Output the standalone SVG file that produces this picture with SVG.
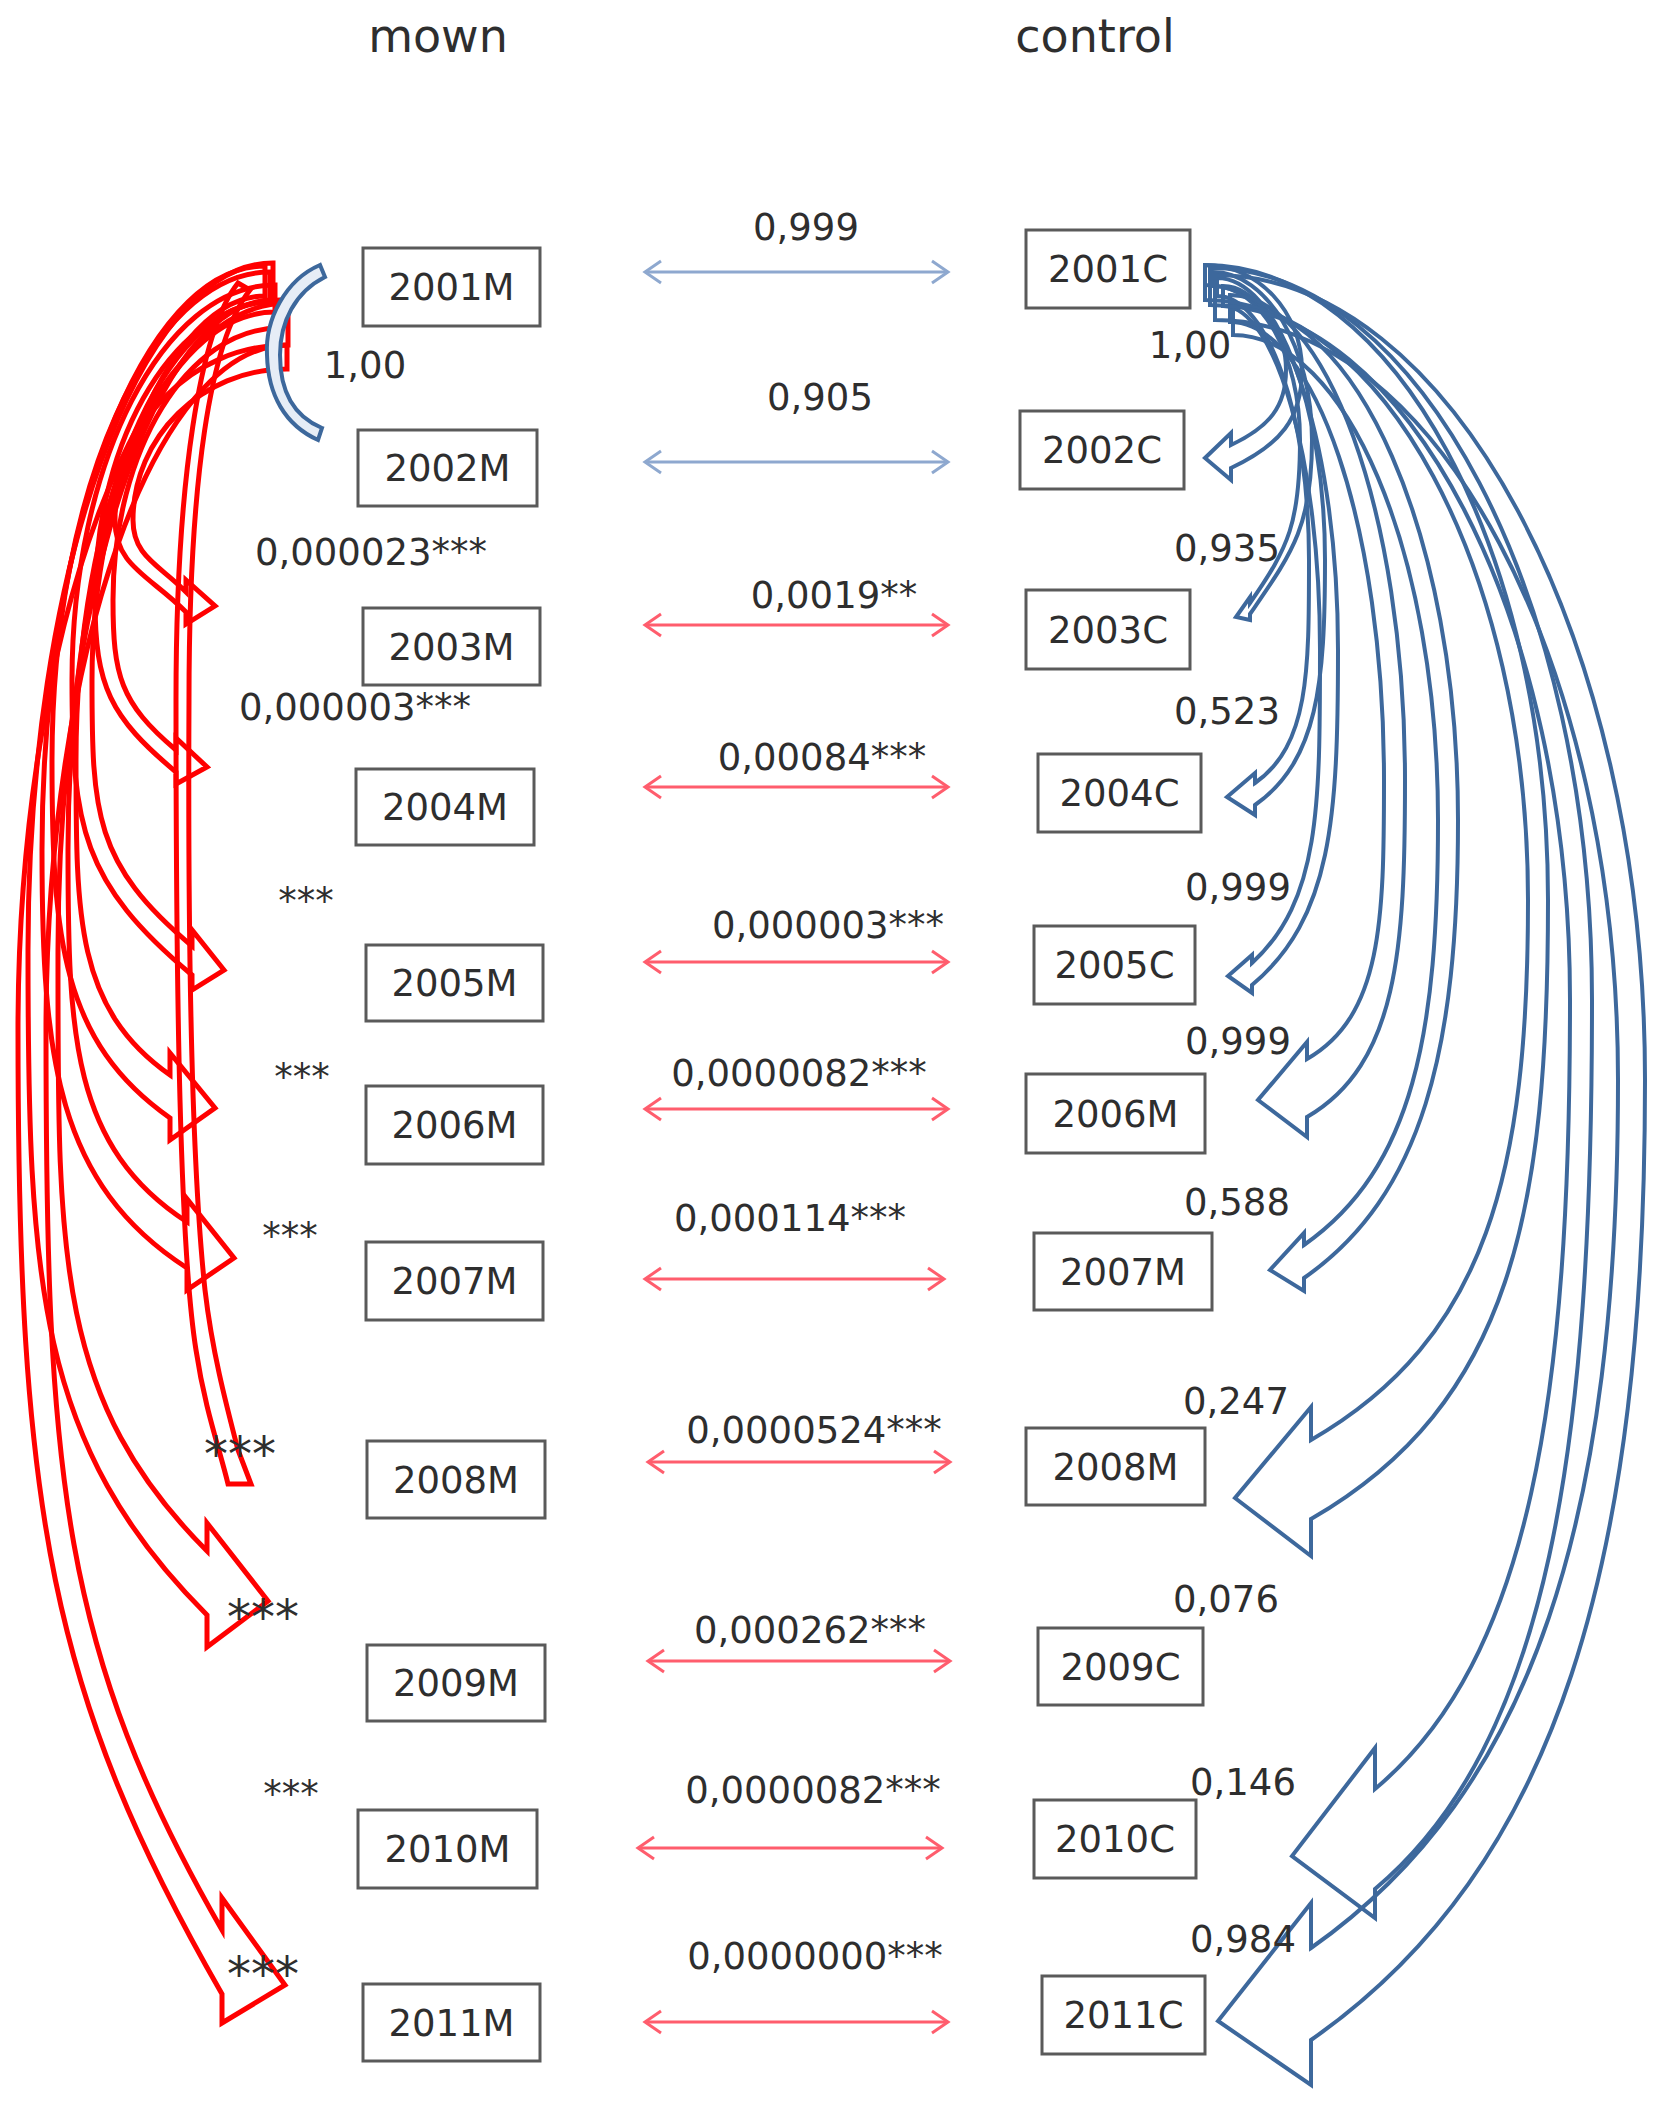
<svg xmlns="http://www.w3.org/2000/svg" width="1658" height="2116" viewBox="0 0 1658 2116">
<style>
.box{fill:#fff;stroke:#5a5a5a;stroke-width:3}
.t{font-family:"DejaVu Sans",sans-serif;font-size:37px;fill:#2e2e2e;text-anchor:middle}
.big{font-size:48px}
.title{font-size:46px}
.red{fill:none;stroke:#ff0000;stroke-width:5;stroke-linejoin:miter}
.blue{fill:none;stroke:#3d689c;stroke-width:4;stroke-linejoin:miter}
.mb{stroke:#8ea8cf;stroke-width:3;fill:none}
.mr{stroke:#ff5d6d;stroke-width:3;fill:none}
</style>
<defs>
<marker id="hb" viewBox="0 0 22 26" refX="19" refY="13" markerWidth="22" markerHeight="26" markerUnits="userSpaceOnUse" orient="auto-start-reverse"><path d="M3,2 L19,13 L3,24" fill="none" stroke="#8ea8cf" stroke-width="3"/></marker>
<marker id="hr" viewBox="0 0 22 26" refX="19" refY="13" markerWidth="22" markerHeight="26" markerUnits="userSpaceOnUse" orient="auto-start-reverse"><path d="M3,2 L19,13 L3,24" fill="none" stroke="#ff5d6d" stroke-width="3"/></marker>
</defs>
<rect width="1658" height="2116" fill="#fff"/>
<g id="titles">
<text class="t title" x="438" y="52">mown</text>
<text class="t title" x="1095" y="52">control</text>
</g>
<g id="connectors">
<path class="red" d="M287,345 C192,345 115,424 115,520 C115,566 149,575 186,612 L186,624 L215,606 L186,580 L186,592 C158,564 133,556 133,520 C133,437 202,369 287,369 Z"/>
<path class="red" d="M280,300 C178,300 95,435 95,600 C95,686 110,717 176,772 L176,784 L207,767 L176,738 L176,750 C120,703 113,675 113,600 C113,450 188,328 280,328 Z"/>
<path class="red" d="M275,285 C163,285 72,463 72,680 C72,827 82,883 192,975 L192,990 L224,970 L192,930 L192,946 C94,864 92,813 92,680 C92,478 174,312 275,312 Z"/>
<path class="red" d="M270,272 C150,272 52,492 52,760 C52,939 62,1042 170,1118 L170,1140 L215,1108 L170,1053 L170,1075 C76,1009 76,918 76,760 C76,508 163,302 270,302 Z"/>
<path class="red" d="M265,266 C142,266 42,529 42,850 C42,1059 57,1184 187,1268 L187,1290 L234,1258 L187,1199 L187,1222 C72,1147 68,1036 68,850 C68,545 157,296 265,296 Z"/>
<path class="red" d="M238,283 C200,330 176,480 176,700 C176,1000 180,1250 196,1350 C205,1410 220,1450 228,1484 L251,1484 L238,1450 C225,1400 212,1350 205,1290 C190,1150 188,900 189,700 C189,480 210,340 250,290 Z"/>
<path class="red" d="M273,263 C138,263 28,572 28,950 C28,1282 37,1445 207,1615 L207,1647 L268,1601 L207,1523 L207,1551 C54,1398 58,1250 58,950 C58,593 155,300 273,300 Z"/>
<path class="red" d="M288,303 C140,303 18,630 18,1030 C18,1512 50,1695 222,1994 L222,2023 L285,1985 L222,1898 L222,1930 C62,1652 46,1480 46,1030 C46,653 155,345 288,345 Z"/>
<path d="M320,265 C285,280 265,320 267,355 C268,395 285,425 318,440 L322,428 C293,416 280,390 280,355 C280,322 295,292 325,277 Z" fill="#e6edf6" stroke="#3d689c" stroke-width="4"/>
<path class="blue" d="M1205,265 C1258,265 1302,312 1302,370 C1302,419 1280,445 1231,468 L1231,480 L1205,458 L1231,433 L1231,445 C1269,427 1286,407 1286,370 C1286,323 1250,285 1205,285 Z"/>
<path class="blue" d="M1213,272 C1267,272 1312,348 1312,440 C1312,527 1292,553 1250,614 L1250,620 L1236,617 L1250,597 L1250,603 C1289,547 1300,522 1300,440 C1300,355 1261,286 1213,286 Z"/>
<path class="blue" d="M1217,278 C1276,278 1325,405 1325,560 C1325,682 1318,761 1255,805 L1255,815 L1227,797 L1255,773 L1255,783 C1309,745 1309,672 1309,560 C1309,415 1268,296 1217,296 Z"/>
<path class="blue" d="M1223,286 C1286,286 1338,450 1338,650 C1338,817 1332,918 1252,985 L1252,993 L1228,976 L1252,955 L1252,963 C1320,901 1320,806 1320,650 C1320,461 1276,306 1223,306 Z"/>
<path class="blue" d="M1230,295 C1326,295 1405,513 1405,780 C1405,948 1398,1064 1307,1117 L1307,1137 L1258,1100 L1307,1042 L1307,1059 C1382,1016 1384,920 1384,780 C1384,528 1315,322 1230,322 Z"/>
<path class="blue" d="M1233,305 C1357,305 1458,537 1458,820 C1458,1049 1423,1195 1304,1278 L1304,1291 L1270,1270 L1304,1233 L1304,1245 C1414,1168 1438,1032 1438,820 C1438,553 1346,335 1233,335 Z"/>
<path class="blue" d="M1205,265 C1394,265 1548,551 1548,900 C1548,1210 1512,1403 1311,1519 L1311,1556 L1235,1498 L1311,1407 L1311,1440 C1488,1338 1528,1170 1528,900 C1528,570 1383,300 1205,300 Z"/>
<path class="blue" d="M1210,268 C1419,268 1592,597 1592,1000 C1592,1445 1550,1742 1375,1889 L1375,1918 L1292,1856 L1375,1748 L1375,1789 C1531,1659 1570,1395 1570,1000 C1570,618 1407,305 1210,305 Z"/>
<path class="blue" d="M1215,275 C1450,275 1645,637 1645,1080 C1645,1560 1560,1866 1311,2040 L1311,2085 L1218,2021 L1311,1903 L1311,1948 C1536,1790 1618,1514 1618,1080 C1618,662 1436,320 1215,320 Z"/>
<line class="mb" x1="645" y1="272" x2="948" y2="272" marker-start="url(#hb)" marker-end="url(#hb)"/>
<line class="mb" x1="645" y1="462" x2="948" y2="462" marker-start="url(#hb)" marker-end="url(#hb)"/>
<line class="mr" x1="645" y1="625" x2="948" y2="625" marker-start="url(#hr)" marker-end="url(#hr)"/>
<line class="mr" x1="645" y1="787" x2="948" y2="787" marker-start="url(#hr)" marker-end="url(#hr)"/>
<line class="mr" x1="645" y1="962" x2="948" y2="962" marker-start="url(#hr)" marker-end="url(#hr)"/>
<line class="mr" x1="645" y1="1109" x2="948" y2="1109" marker-start="url(#hr)" marker-end="url(#hr)"/>
<line class="mr" x1="645" y1="1279" x2="944" y2="1279" marker-start="url(#hr)" marker-end="url(#hr)"/>
<line class="mr" x1="648" y1="1462" x2="950" y2="1462" marker-start="url(#hr)" marker-end="url(#hr)"/>
<line class="mr" x1="648" y1="1661" x2="950" y2="1661" marker-start="url(#hr)" marker-end="url(#hr)"/>
<line class="mr" x1="638" y1="1848" x2="942" y2="1848" marker-start="url(#hr)" marker-end="url(#hr)"/>
<line class="mr" x1="645" y1="2022" x2="948" y2="2022" marker-start="url(#hr)" marker-end="url(#hr)"/>
</g>
<g id="labels">
<text class="t" x="806" y="240">0,999</text>
<text class="t" x="820" y="410">0,905</text>
<text class="t" x="834" y="608">0,0019**</text>
<text class="t" x="822" y="770">0,00084***</text>
<text class="t" x="828" y="938">0,000003***</text>
<text class="t" x="799" y="1086">0,0000082***</text>
<text class="t" x="790" y="1231">0,000114***</text>
<text class="t" x="814" y="1443">0,0000524***</text>
<text class="t" x="810" y="1643">0,000262***</text>
<text class="t" x="813" y="1803">0,0000082***</text>
<text class="t" x="815" y="1969">0,0000000***</text>
<text class="t" x="365" y="378">1,00</text>
<text class="t" x="371" y="565">0,000023***</text>
<text class="t" x="355" y="720">0,000003***</text>
<text class="t" x="306" y="914">***</text>
<text class="t" x="302" y="1090">***</text>
<text class="t" x="290" y="1249">***</text>
<text class="t big" x="240" y="1471">***</text>
<text class="t big" x="263" y="1634">***</text>
<text class="t" x="291" y="1807">***</text>
<text class="t big" x="263" y="1991">***</text>
<text class="t" x="1190" y="358">1,00</text>
<text class="t" x="1227" y="561">0,935</text>
<text class="t" x="1227" y="724">0,523</text>
<text class="t" x="1238" y="900">0,999</text>
<text class="t" x="1238" y="1054">0,999</text>
<text class="t" x="1237" y="1215">0,588</text>
<text class="t" x="1236" y="1414">0,247</text>
<text class="t" x="1226" y="1612">0,076</text>
<text class="t" x="1243" y="1795">0,146</text>
<text class="t" x="1243" y="1952">0,984</text>
</g>
<g id="n2001M"><rect class="box" x="363" y="248" width="177" height="78"/><text class="t" x="451.5" y="300">2001M</text></g>
<g id="n2002M"><rect class="box" x="358" y="430" width="179" height="76"/><text class="t" x="447.5" y="481">2002M</text></g>
<g id="n2003M"><rect class="box" x="363" y="608" width="177" height="77"/><text class="t" x="451.5" y="660">2003M</text></g>
<g id="n2004M"><rect class="box" x="356" y="769" width="178" height="76"/><text class="t" x="445" y="820">2004M</text></g>
<g id="n2005M"><rect class="box" x="366" y="945" width="177" height="76"/><text class="t" x="454.5" y="996">2005M</text></g>
<g id="n2006M"><rect class="box" x="366" y="1086" width="177" height="78"/><text class="t" x="454.5" y="1138">2006M</text></g>
<g id="n2007M"><rect class="box" x="366" y="1242" width="177" height="78"/><text class="t" x="454.5" y="1294">2007M</text></g>
<g id="n2008M"><rect class="box" x="367" y="1441" width="178" height="77"/><text class="t" x="456" y="1493">2008M</text></g>
<g id="n2009M"><rect class="box" x="367" y="1645" width="178" height="76"/><text class="t" x="456" y="1696">2009M</text></g>
<g id="n2010M"><rect class="box" x="358" y="1810" width="179" height="78"/><text class="t" x="447.5" y="1862">2010M</text></g>
<g id="n2011M"><rect class="box" x="363" y="1984" width="177" height="77"/><text class="t" x="451.5" y="2036">2011M</text></g>
<g id="n2001C"><rect class="box" x="1026" y="230" width="164" height="78"/><text class="t" x="1108" y="282">2001C</text></g>
<g id="n2002C"><rect class="box" x="1020" y="411" width="164" height="78"/><text class="t" x="1102" y="463">2002C</text></g>
<g id="n2003C"><rect class="box" x="1026" y="590" width="164" height="79"/><text class="t" x="1108" y="643">2003C</text></g>
<g id="n2004C"><rect class="box" x="1038" y="754" width="163" height="78"/><text class="t" x="1119.5" y="806">2004C</text></g>
<g id="n2005C"><rect class="box" x="1034" y="926" width="161" height="78"/><text class="t" x="1114.5" y="978">2005C</text></g>
<g id="n2006Mc"><rect class="box" x="1026" y="1074" width="179" height="79"/><text class="t" x="1115.5" y="1127">2006M</text></g>
<g id="n2007Mc"><rect class="box" x="1034" y="1233" width="178" height="77"/><text class="t" x="1123" y="1285">2007M</text></g>
<g id="n2008Mc"><rect class="box" x="1026" y="1428" width="179" height="77"/><text class="t" x="1115.5" y="1480">2008M</text></g>
<g id="n2009C"><rect class="box" x="1038" y="1628" width="165" height="77"/><text class="t" x="1120.5" y="1680">2009C</text></g>
<g id="n2010C"><rect class="box" x="1034" y="1800" width="162" height="78"/><text class="t" x="1115" y="1852">2010C</text></g>
<g id="n2011C"><rect class="box" x="1042" y="1976" width="163" height="78"/><text class="t" x="1123.5" y="2028">2011C</text></g>
</svg>
